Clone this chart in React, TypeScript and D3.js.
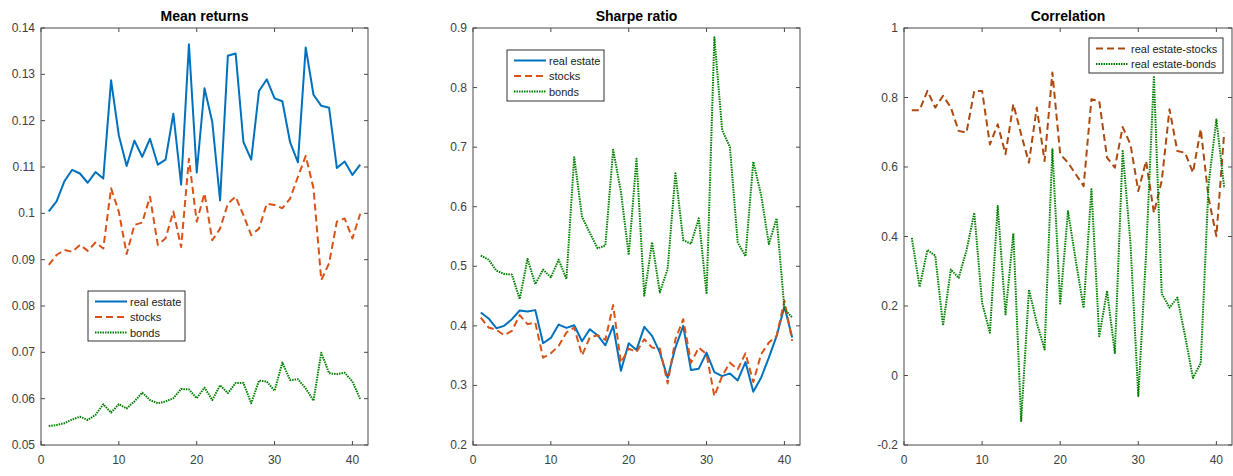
import React from "react";
import * as d3 from "d3";

const xs = d3.range(1, 42);

const meanRealEstate = [0.1004, 0.1026, 0.1069, 0.1094, 0.1086, 0.1066, 0.1089, 0.1075, 0.1287, 0.1168, 0.1102, 0.1157, 0.1122, 0.1161, 0.1105, 0.1116, 0.1215, 0.1062, 0.1365, 0.1088, 0.127, 0.1197, 0.1028, 0.134, 0.1345, 0.1154, 0.1116, 0.1264, 0.1289, 0.1248, 0.1242, 0.1153, 0.111, 0.1358, 0.1256, 0.1232, 0.1228, 0.1098, 0.1112, 0.1083, 0.1105];
const meanStocks = [0.0889, 0.091, 0.0921, 0.0917, 0.0932, 0.0919, 0.0937, 0.0924, 0.1054, 0.1003, 0.0912, 0.0975, 0.098, 0.1036, 0.0932, 0.0946, 0.1004, 0.0927, 0.1118, 0.0982, 0.1043, 0.0942, 0.0967, 0.1021, 0.1036, 0.0996, 0.0953, 0.0967, 0.1021, 0.1018, 0.1011, 0.1032, 0.1079, 0.1124, 0.1054, 0.0856, 0.0892, 0.0982, 0.0989, 0.0946, 0.0999];
const meanBonds = [0.0541, 0.0543, 0.0547, 0.0555, 0.0561, 0.0554, 0.0565, 0.0588, 0.057, 0.0588, 0.0579, 0.0594, 0.0613, 0.0597, 0.059, 0.0594, 0.0601, 0.0621, 0.062, 0.0601, 0.0624, 0.0597, 0.0629, 0.0612, 0.0634, 0.0634, 0.059, 0.0639, 0.0637, 0.0617, 0.0678, 0.064, 0.0642, 0.0622, 0.0596, 0.0699, 0.0655, 0.0653, 0.0656, 0.0637, 0.0599];

const sharpeRealEstate = [0.4225, 0.4124, 0.3961, 0.4, 0.4112, 0.4258, 0.4242, 0.4264, 0.3708, 0.3798, 0.4022, 0.3966, 0.4011, 0.3742, 0.3944, 0.3843, 0.3674, 0.4, 0.3247, 0.3708, 0.3596, 0.3983, 0.3831, 0.3551, 0.3129, 0.3635, 0.4, 0.3258, 0.3281, 0.3551, 0.3225, 0.3157, 0.3202, 0.3084, 0.3393, 0.2893, 0.3129, 0.3466, 0.3831, 0.4326, 0.3803];
const sharpeStocks = [0.414, 0.3972, 0.3933, 0.3843, 0.3916, 0.418, 0.4028, 0.4056, 0.3466, 0.354, 0.3663, 0.3888, 0.3972, 0.3506, 0.3803, 0.3843, 0.3764, 0.4348, 0.3382, 0.3618, 0.3562, 0.3775, 0.3635, 0.3618, 0.3034, 0.3775, 0.4112, 0.3382, 0.3635, 0.3522, 0.282, 0.3157, 0.3382, 0.327, 0.354, 0.3056, 0.3522, 0.3719, 0.3831, 0.4421, 0.3747];
const sharpeBonds = [0.518, 0.5112, 0.4927, 0.4871, 0.486, 0.4449, 0.5124, 0.4702, 0.4944, 0.4815, 0.5112, 0.4787, 0.6831, 0.583, 0.556, 0.5303, 0.5348, 0.6955, 0.625, 0.5191, 0.6804, 0.4506, 0.5404, 0.4562, 0.4955, 0.656, 0.544, 0.5376, 0.5804, 0.4534, 0.8843, 0.7287, 0.7, 0.54, 0.5169, 0.6755, 0.62, 0.5376, 0.5804, 0.428, 0.414];

const corrStocks = [0.7635, 0.7635, 0.819, 0.771, 0.805, 0.771, 0.704, 0.699, 0.819, 0.819, 0.665, 0.723, 0.637, 0.781, 0.694, 0.6125, 0.771, 0.617, 0.872, 0.637, 0.6125, 0.579, 0.545, 0.795, 0.79, 0.627, 0.598, 0.715, 0.665, 0.531, 0.617, 0.468, 0.56, 0.766, 0.646, 0.641, 0.584, 0.709, 0.511, 0.401, 0.699];
const corrBonds = [0.396, 0.255, 0.361, 0.345, 0.144, 0.305, 0.281, 0.36, 0.468, 0.209, 0.123, 0.4875, 0.176, 0.409, -0.131, 0.247, 0.152, 0.075, 0.651, 0.207, 0.473, 0.33, 0.194, 0.536, 0.113, 0.243, 0.065, 0.646, 0.38, -0.059, 0.35, 0.862, 0.236, 0.195, 0.224, 0.113, -0.007, 0.036, 0.55, 0.737, 0.54];

const xTicks = [0, 10, 20, 30, 40];
const meanTicks = [0.05, 0.06, 0.07, 0.08, 0.09, 0.1, 0.11, 0.12, 0.13, 0.14];
const sharpeTicks = [0.2, 0.3, 0.4, 0.5, 0.6, 0.7, 0.8, 0.9];
const corrTicks = [-0.2, 0, 0.2, 0.4, 0.6, 0.8, 1];

const BLUE = "#0072BD";
const ORANGE = "#D95319";
const GREEN = "#008000";
const BROWN = "#AD4A12";
const AXIS = "#4a4a4a";
const FONT = "'Liberation Sans', Arial, Helvetica, sans-serif";

type Series = { name: string; values: number[]; color: string; dash: string; width: number };

type PanelProps = {
  title: string;
  left: number;
  right: number;
  top: number;
  bottom: number;
  yDomain: [number, number];
  yTicks: number[];
  series: Series[];
  legend: { x: number; y: number; w: number; h: number };
};

const fmt = (v: number) => {
  const r = Math.round(v * 1000) / 1000;
  return r === 0 ? "0" : String(r);
};

function Panel({ title, left, right, top, bottom, yDomain, yTicks, series, legend }: PanelProps) {
  const x = d3.scaleLinear().domain([0, 42]).range([left, right]);
  const y = d3.scaleLinear().domain(yDomain).range([bottom, top]);
  const line = d3
    .line<number>()
    .x((_, i) => x(xs[i]))
    .y((d) => y(d));
  const tl = 4;
  return (
    <g>
      <text x={(left + right) / 2} y={21} textAnchor="middle" fontFamily={FONT} fontWeight="bold" fontSize={14} fill="#000">
        {title}
      </text>
      {series.map((s) => (
        <path key={s.name} d={line(s.values) || ""} fill="none" stroke={s.color} strokeWidth={s.width} strokeDasharray={s.dash} strokeLinejoin="round" />
      ))}
      <rect x={left} y={top} width={right - left} height={bottom - top} fill="none" stroke={AXIS} strokeWidth={1} />
      {xTicks.map((t) => (
        <g key={"x" + t}>
          <line x1={x(t)} x2={x(t)} y1={bottom} y2={bottom - tl} stroke={AXIS} />
          <line x1={x(t)} x2={x(t)} y1={top} y2={top + tl} stroke={AXIS} />
          <text x={x(t)} y={bottom + 19} textAnchor="middle" fontFamily={FONT} fontSize={12} fill="#404040">
            {t}
          </text>
        </g>
      ))}
      {yTicks.map((t) => (
        <g key={"y" + t}>
          <line x1={left} x2={left + tl} y1={y(t)} y2={y(t)} stroke={AXIS} />
          <line x1={right} x2={right - tl} y1={y(t)} y2={y(t)} stroke={AXIS} />
          <text x={left - 6} y={y(t) + 4} textAnchor="end" fontFamily={FONT} fontSize={12} fill="#404040">
            {fmt(t)}
          </text>
        </g>
      ))}
      <rect x={legend.x} y={legend.y} width={legend.w} height={legend.h} fill="#fff" stroke="#333" strokeWidth={1} />
      {series.map((s, i) => {
        const ly = legend.y + 10.5 + i * 15.5;
        return (
          <g key={"l" + s.name}>
            <line x1={legend.x + 7} x2={legend.x + 39} y1={ly} y2={ly} stroke={s.color} strokeWidth={s.width} strokeDasharray={s.dash} />
            <text x={legend.x + 42} y={ly + 4} fontFamily={FONT} fontSize={11} fill="#222">
              {s.name}
            </text>
          </g>
        );
      })}
    </g>
  );
}

export default function App() {
  return (
    <svg width={1233} height={476} style={{ position: "absolute", left: 0, top: 0, background: "#fff" }}>
      <rect width={1233} height={476} fill="#fff" />
      <Panel
        title="Mean returns"
        left={41}
        right={368}
        top={28}
        bottom={445}
        yDomain={[0.05, 0.14]}
        yTicks={meanTicks}
        legend={{ x: 88, y: 291, w: 97, h: 50 }}
        series={[
          { name: "real estate", values: meanRealEstate, color: BLUE, dash: "none", width: 2 },
          { name: "stocks", values: meanStocks, color: ORANGE, dash: "7,4", width: 2 },
          { name: "bonds", values: meanBonds, color: GREEN, dash: "1.5,1", width: 2 },
        ]}
      />
      <Panel
        title="Sharpe ratio"
        left={473}
        right={800}
        top={28}
        bottom={445}
        yDomain={[0.2, 0.9]}
        yTicks={sharpeTicks}
        legend={{ x: 507, y: 50, w: 97, h: 51 }}
        series={[
          { name: "real estate", values: sharpeRealEstate, color: BLUE, dash: "none", width: 2 },
          { name: "stocks", values: sharpeStocks, color: ORANGE, dash: "7,4", width: 2 },
          { name: "bonds", values: sharpeBonds, color: GREEN, dash: "1.5,1", width: 2 },
        ]}
      />
      <Panel
        title="Correlation"
        left={904}
        right={1232}
        top={28}
        bottom={445}
        yDomain={[-0.2, 1]}
        yTicks={corrTicks}
        legend={{ x: 1089, y: 38, w: 134, h: 35 }}
        series={[
          { name: "real estate-stocks", values: corrStocks, color: BROWN, dash: "7,4", width: 2 },
          { name: "real estate-bonds", values: corrBonds, color: GREEN, dash: "1.5,1", width: 2 },
        ]}
      />
    </svg>
  );
}
